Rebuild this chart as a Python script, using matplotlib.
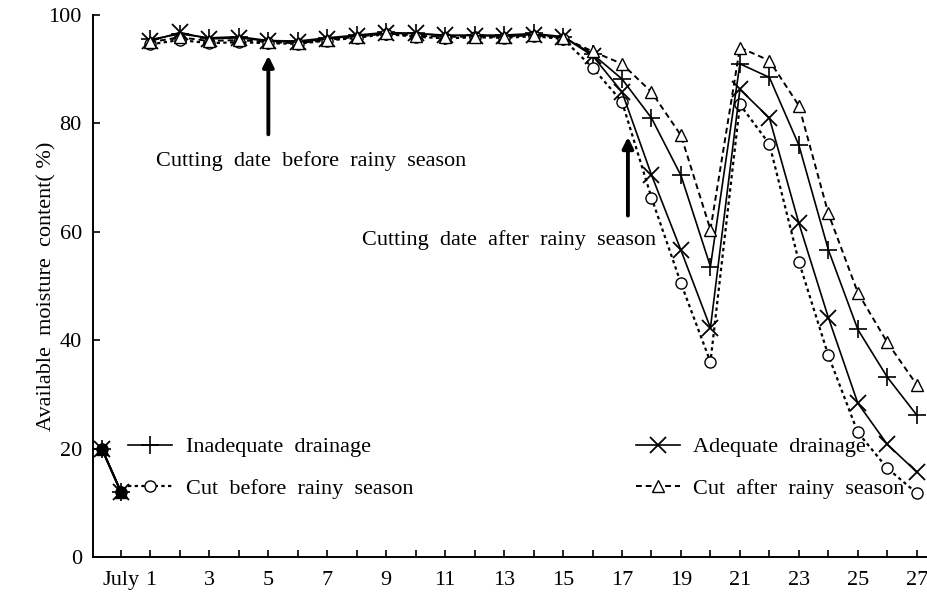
import matplotlib
matplotlib.use("Agg")
import matplotlib.pyplot as plt
import numpy as np

plt.rcParams['font.family'] = ['Liberation Serif', 'DejaVu Serif']

# ---- data ----
early_days = [-0.65, 0]
early_values = [20, 12]

days = list(range(1, 28))
inadequate = [95.5, 96.5, 95.8, 96.0, 95.3, 95.2, 95.8, 96.3, 96.8, 96.6, 96.2, 96.3, 96.3, 96.6, 96.0,
              92.8, 88.2, 81.0, 70.4, 53.6, 91.0, 88.5, 76.0, 56.7, 42.0, 33.2, 26.2]
adequate = [95.2, 96.8, 95.6, 95.8, 95.2, 95.0, 95.6, 96.2, 96.6, 96.6, 96.3, 96.2, 96.1, 96.4, 96.0,
            92.5, 85.8, 70.5, 56.6, 42.3, 86.3, 81.0, 61.6, 44.2, 28.4, 20.8, 15.7]
cut_before = [94.6, 95.4, 94.8, 95.0, 94.8, 94.7, 95.3, 95.8, 96.5, 96.0, 95.7, 95.9, 95.8, 96.1, 95.6,
              90.3, 84.0, 66.3, 50.5, 36.0, 83.5, 76.2, 54.5, 37.2, 23.0, 16.4, 11.8]
cut_after = [95.0, 95.9, 95.2, 95.4, 95.0, 94.8, 95.4, 96.0, 96.6, 96.2, 96.0, 96.0, 96.0, 96.3, 95.8,
             93.3, 91.0, 85.8, 77.8, 60.4, 94.0, 91.6, 83.3, 63.4, 48.8, 39.6, 31.8]

labels = ["Inadequate  drainage", "Cut  before  rainy  season",
          "Adequate  drainage", "Cut  after  rainy  season"]
tick_days = list(range(0, 28))
tick_labels = ["July"] + [str(d) if d % 2 == 1 else "" for d in range(1, 28)]

arrow_before_day = 5
arrow_after_day = 17.2

FS = 16

# ---- figure ----
fig = plt.figure(figsize=(9.28, 5.95), dpi=100)
ax = fig.add_axes([0.1002, 0.0637, 0.8988, 0.911])

styles = [
    (inadequate, dict(marker='+', ms=13, mew=1.2, ls='-', lw=1.2)),
    (cut_before, dict(marker='o', ms=8, mew=1.0, mfc='white', ls=(0, (1.5, 1.5)), lw=1.6)),
    (adequate, dict(marker='x', ms=11, mew=1.3, ls='-', lw=1.2)),
    (cut_after, dict(marker='^', ms=8, mew=1.0, mfc='white', ls=(0, (3, 2)), lw=1.4)),
]
for (vals, st), lab in zip(styles, labels):
    ax.plot(days, vals, color='black', label=lab, **st)
    ax.plot(early_days, early_values, color='black', marker=st['marker'], ms=st['ms'],
            mew=st['mew'], ls='-', lw=1.4, mfc='black')

ax.set_xlim(-0.95, 27.35)
ax.set_ylim(0, 100)
ax.spines['top'].set_visible(False)
ax.spines['right'].set_visible(False)
for s in ['left', 'bottom']:
    ax.spines[s].set_linewidth(1.4)

ax.set_xticks(tick_days)
ax.set_xticklabels(tick_labels)
ax.set_yticks([0, 20, 40, 60, 80, 100])
ax.tick_params(axis='both', direction='in', length=5, width=1.2, labelsize=FS)
ax.tick_params(axis='x', pad=10)
ax.tick_params(axis='y', pad=8)
ax.set_ylabel("Available  moisture  content( %)", fontsize=FS, labelpad=-6)

ax.annotate("", xy=(arrow_before_day, 92.5), xytext=(arrow_before_day, 78),
            arrowprops=dict(arrowstyle='-|>', lw=2.8, mutation_scale=16, color='black',
                            shrinkA=0, shrinkB=0))
ax.text(1.2, 73, "Cutting  date  before  rainy  season", ha='left', va='center',
        fontsize=FS)
ax.annotate("", xy=(arrow_after_day, 77.5), xytext=(arrow_after_day, 63),
            arrowprops=dict(arrowstyle='-|>', lw=2.8, mutation_scale=16, color='black',
                            shrinkA=0, shrinkB=0))
ax.text(arrow_after_day + 0.95, 58.5, "Cutting  date  after  rainy  season", ha='right',
        va='center', fontsize=FS)

ax.legend(loc='upper left', bbox_to_anchor=(0.042, 0.222), ncol=2, frameon=False,
          fontsize=FS, handlelength=2.0, handletextpad=0.6, labelspacing=0.95,
          columnspacing=10.0, borderaxespad=0, borderpad=0)

fig.savefig("out.png", dpi=100)
